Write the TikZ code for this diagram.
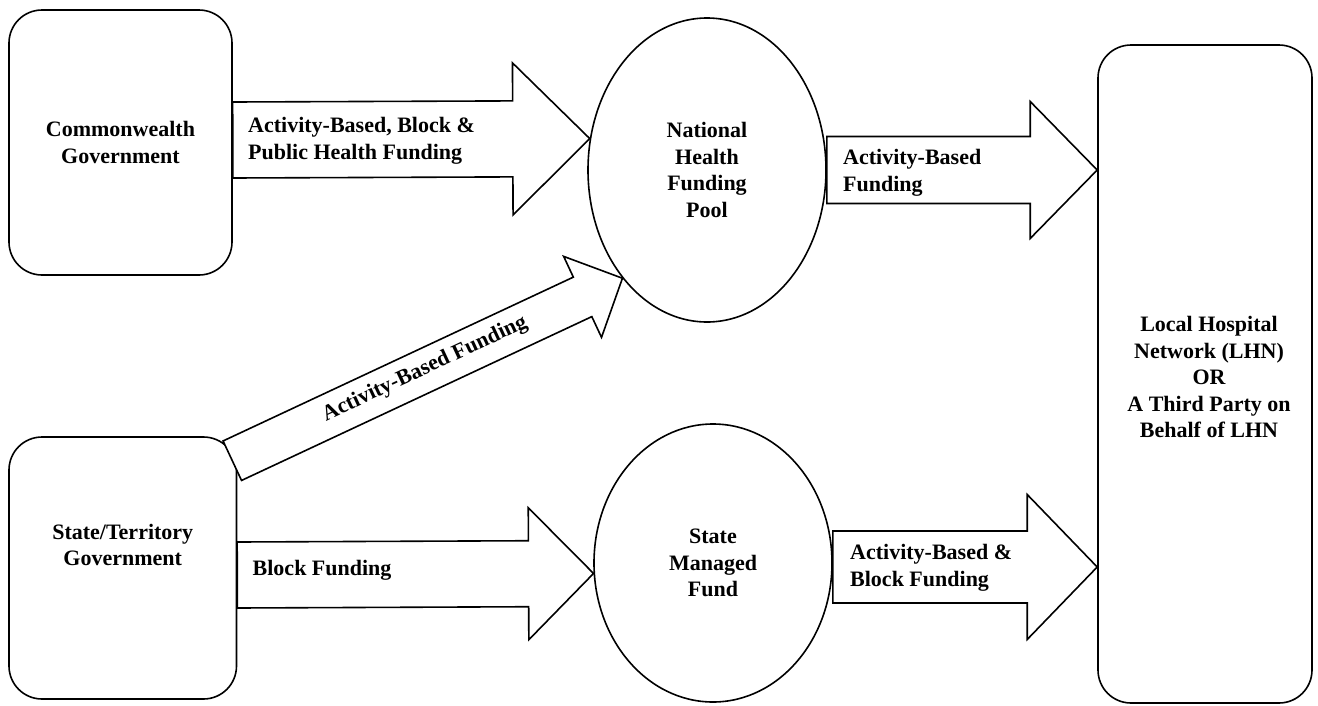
\documentclass[tikz,border=0pt]{standalone}
\usepackage{fontspec}
\setmainfont{Liberation Serif}
\usetikzlibrary{calc,shapes.geometric}
\pgfdeclarelayer{bg}
\pgfdeclarelayer{mid}
\pgfsetlayers{bg,mid,main}
\newcommand\barrow[5]{%
  \coordinate (babase) at ($(#2)!#5!(#1)$);
  \draw[arrowbody] ($(#1)!#3!90:(#2)$) -- ($(babase)!#3!90:(#2)$) -- ($(babase)!#4!90:(#2)$) -- (#2) -- ($(babase)!#4!-90:(#2)$) -- ($(babase)!#3!-90:(#2)$) -- ($(#1)!#3!-90:(#2)$) -- cycle;}
\tikzset{
  every node/.style={font=\fontsize{22}{26.5}\selectfont\bfseries},
  boxnode/.style={draw, line width=1.6pt, rounded corners=33pt, inner sep=0pt},
  ellnode/.style={draw, ellipse, line width=1.6pt, inner sep=0pt},
  arrowbody/.style={draw, fill=white, line width=1.6pt, line join=miter},
  txt/.style={align=center, inner sep=0pt},
  lbl/.style={align=left, inner sep=0pt}
}
\begin{document}
\begin{tikzpicture}[x=1pt,y=-1pt]
\useasboundingbox (0,0) rectangle (1318,705);
\begin{pgfonlayer}{bg}
\node[boxnode, minimum width=223pt, minimum height=265pt, align=center] (cw) at (120.5,142.5) {Commonwealth\\Government};
\node[boxnode, minimum width=227.5pt, minimum height=262pt] (st) at (122.75,568) {};
\node[boxnode, minimum width=214pt, minimum height=658pt] (lhn) at (1205,374) {};
\end{pgfonlayer}
\node[txt] (stt) at (122.75,545) {State/Territory\\Government};
\node[txt] (lhnt) at (1209,377) {Local Hospital\\Network (LHN)\\OR\\A Third Party on\\Behalf of LHN};
\node[ellnode, minimum width=238pt, minimum height=304pt, align=center] (nhfp) at (707,170) {National\\Health\\Funding\\Pool};
\node[ellnode, minimum width=238pt, minimum height=278pt, align=center] (smf) at (713,563) {State\\Managed\\Fund};
\coordinate (a1s) at ([yshift=2.5pt]cw.east);
\coordinate (a1t) at (nhfp.165.6);
\coordinate (a2s) at (nhfp.east);
\coordinate (a2t) at (lhn.west |- nhfp.east);
\coordinate (a3s) at ([xshift=-5pt,yshift=-24.5pt]st.north east);
\coordinate (a3t) at (nhfp.232.1);
\coordinate (a4s) at ([yshift=-7pt]st.east);
\coordinate (a4t) at (smf.185.8);
\coordinate (a5s) at ([yshift=-4pt]smf.east);
\coordinate (a5t) at (lhn.west |- a5s);
\begin{pgfonlayer}{mid}
\barrow{a1s}{a1t}{38pt}{76pt}{77pt}
\barrow{a2s}{a2t}{33.5pt}{68.5pt}{67pt}
\barrow{a3s}{a3t}{21.8pt}{44.7pt}{44pt}
\barrow{a4s}{a4t}{33pt}{66pt}{65pt}
\barrow{a5s}{a5t}{36pt}{72.5pt}{70pt}
\end{pgfonlayer}
\node[lbl, anchor=west] (l1) at (248,141) {Activity-Based, Block \&\\Public Health Funding};
\node[lbl, anchor=west] (l2) at (843,173) {Activity-Based\\Funding};
\node[lbl, rotate=25.1] (l3) at (425,369) {Activity-Based Funding};
\node[lbl, anchor=base west] (l4) at (252.5,575) {Block Funding};
\node[lbl, anchor=west] (l5) at (850,568) {Activity-Based \&\\Block Funding};
\end{tikzpicture}
\end{document}
